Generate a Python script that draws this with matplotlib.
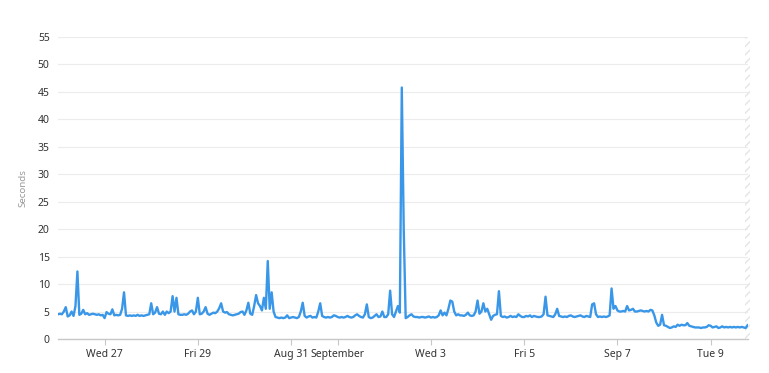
"""Response time line chart, hourly samples, late August to early September."""

import matplotlib

matplotlib.use("Agg")
import matplotlib.dates as mdates
import matplotlib.pyplot as plt
import numpy as np
import pandas as pd

plt.rcParams["font.family"] = ["Noto Sans", "DejaVu Sans"]

START = "2025-08-26 00:00"

# hourly values (seconds), one list per day
aug26 = [4.5, 4.6, 4.5, 5.0, 5.8, 4.1, 4.3, 5.0, 4.2, 6.0, 12.3, 4.4,
         4.6, 5.3, 4.5, 4.7, 4.4, 4.5, 4.6, 4.5, 4.4, 4.5, 4.3, 4.4]
aug27 = [3.8, 4.9, 4.6, 4.5, 5.4, 4.3, 4.4, 4.3, 4.4, 5.5, 8.5, 4.3,
         4.2, 4.3, 4.2, 4.3, 4.2, 4.4, 4.2, 4.3, 4.2, 4.3, 4.4, 4.5]
aug28 = [6.5, 4.5, 4.8, 5.8, 4.6, 4.5, 5.0, 4.4, 5.0, 4.7, 5.0, 7.8,
         5.0, 7.5, 4.5, 4.4, 4.4, 4.5, 4.4, 4.6, 5.0, 5.2, 4.5, 5.0]
aug29 = [7.5, 4.5, 4.6, 5.0, 5.8, 4.6, 4.4, 4.6, 4.8, 4.7, 5.0, 5.6,
         6.5, 5.0, 4.8, 4.9, 4.5, 4.4, 4.3, 4.4, 4.5, 4.6, 4.9, 5.0]
aug30 = [4.4, 5.2, 6.6, 4.6, 4.4, 6.0, 8.0, 6.5, 6.0, 5.2, 7.5, 5.5,
         14.2, 5.5, 8.5, 5.0, 4.0, 3.9, 3.8, 3.9, 3.8, 3.9, 4.3, 3.8]
aug31 = [3.9, 4.0, 3.9, 3.8, 4.0, 5.0, 6.6, 4.2, 3.9, 4.1, 4.2, 3.9,
         4.0, 3.9, 5.0, 6.5, 4.2, 4.0, 3.9, 4.0, 3.9, 4.0, 4.3, 4.2]
sep01 = [4.0, 3.9, 4.0, 3.9, 4.0, 4.2, 4.0, 3.9, 4.0, 4.3, 4.5, 4.2,
         4.0, 3.9, 4.5, 6.3, 4.0, 3.8, 3.9, 4.2, 4.5, 4.0, 4.1, 5.0]
sep02 = [4.0, 4.0, 4.5, 8.8, 4.5, 4.0, 5.0, 6.0, 4.8, 45.8, 20.0, 3.8,
         4.0, 4.3, 4.5, 4.1, 4.0, 4.0, 3.9, 4.0, 4.0, 3.9, 4.0, 4.1]
sep03 = [3.9, 4.0, 3.9, 4.0, 4.3, 5.2, 4.3, 4.8, 4.3, 5.5, 7.0, 6.8,
         5.0, 4.3, 4.5, 4.3, 4.3, 4.2, 4.4, 4.8, 4.3, 4.2, 4.3, 5.0]
sep04 = [7.0, 4.6, 5.0, 6.5, 5.0, 5.5, 4.5, 3.5, 4.2, 4.4, 4.5, 8.7,
         4.2, 4.0, 4.1, 3.9, 4.0, 4.2, 4.0, 4.1, 4.0, 4.5, 4.2, 4.0]
sep05 = [4.0, 4.2, 4.1, 4.3, 4.0, 4.2, 4.1, 4.0, 4.0, 4.1, 4.5, 7.7,
         4.3, 4.2, 4.1, 4.0, 4.5, 5.5, 4.2, 4.1, 4.0, 4.1, 4.0, 4.2]
sep06 = [4.3, 4.1, 4.0, 4.1, 4.2, 4.3, 4.1, 4.0, 4.2, 4.1, 4.0, 6.3,
         6.5, 4.5, 4.0, 4.1, 4.0, 4.1, 4.0, 4.1, 4.3, 9.2, 5.5, 6.0]
sep07 = [5.2, 5.0, 5.0, 5.1, 5.0, 6.0, 5.2, 5.3, 5.5, 5.0, 5.0, 5.1,
         5.2, 5.1, 5.0, 5.1, 5.0, 5.3, 5.2, 4.3, 3.0, 2.4, 2.6, 4.4]
sep08 = [2.5, 2.4, 2.2, 2.0, 2.1, 2.3, 2.2, 2.6, 2.4, 2.6, 2.5, 2.5,
         2.9, 2.4, 2.3, 2.2, 2.1, 2.1, 2.1, 2.0, 2.1, 2.1, 2.2, 2.5]
sep09 = [2.4, 2.1, 2.2, 2.3, 2.0, 2.1, 2.3, 2.1, 2.2, 2.1, 2.2, 2.1,
         2.2, 2.1, 2.2, 2.1, 2.2, 2.1, 2.0, 2.5]

tick_dates = ["2025-08-27", "2025-08-29", "2025-08-31", "2025-09-01",
              "2025-09-03", "2025-09-05", "2025-09-07", "2025-09-09"]
tick_labels = ["Wed 27", "Fri 29", "Aug 31", "September",
               "Wed 3", "Fri 5", "Sep 7", "Tue 9"]
y_ticks = [0, 5, 10, 15, 20, 25, 30, 35, 40, 45, 50, 55]

values = np.array(aug26 + aug27 + aug28 + aug29 + aug30 + aug31 + sep01 + sep02
                  + sep03 + sep04 + sep05 + sep06 + sep07 + sep08 + sep09)
times = pd.date_range(START, periods=len(values), freq="h")

fig = plt.figure(figsize=(7.69, 3.73), dpi=100)
ax = fig.add_axes((0.0754, 0.0912, 0.8973, 0.8096))

ax.plot(times, values, color="#3a97e8", linewidth=1.7, solid_joinstyle="round")

x_left = mdates.date2num(times[0])
x_right = mdates.date2num(times[-1]) + 0.01
ax.set_xlim(x_left, x_right)
ax.set_ylim(0, 55)

# unfinished interval at the right edge
ax.axvspan(mdates.date2num(times[-1]) - 0.05, x_right + 0.05, facecolor="none",
           edgecolor="#e4e4ea", hatch="////", linewidth=0, clip_on=False)

ax.set_yticks(y_ticks)
ax.set_xticks([mdates.date2num(pd.Timestamp(d)) for d in tick_dates])
ax.set_xticklabels(tick_labels)

ax.grid(axis="y", color="#ececec", linewidth=0.8)
ax.set_axisbelow(True)
for side in ("top", "right", "left"):
    ax.spines[side].set_visible(False)
ax.spines["bottom"].set_color("#c8c8c8")
ax.spines["bottom"].set_linewidth(1.0)

ax.tick_params(axis="y", length=0, pad=6, labelsize=7.5, labelcolor="#333333")
ax.tick_params(axis="x", length=4, width=0.8, color="#c8c8c8", pad=3,
               labelsize=7.5, labelcolor="#333333")

ax.set_ylabel("Seconds", fontsize=7, color="#999999", labelpad=7)

fig.savefig("out.png", dpi=100)
plt.close(fig)
